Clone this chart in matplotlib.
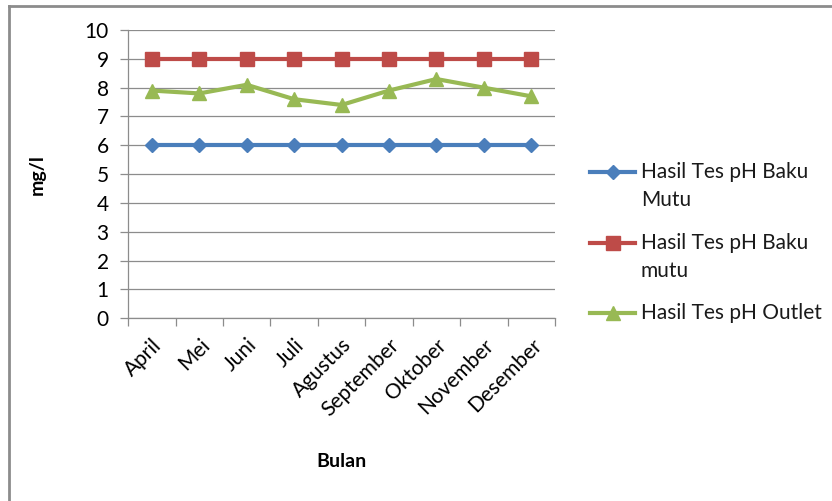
import matplotlib.pyplot as plt
from matplotlib.lines import Line2D
import numpy as np

plt.rcParams['font.family'] = ['Lato', 'DejaVu Sans']

bulan = ['April', 'Mei', 'Juni', 'Juli', 'Agustus', 'September',
         'Oktober', 'November', 'Desember']
baku_mutu_bawah = [6, 6, 6, 6, 6, 6, 6, 6, 6]
baku_mutu_atas = [9, 9, 9, 9, 9, 9, 9, 9, 9]
ph_outlet = [7.9, 7.8, 8.1, 7.6, 7.4, 7.9, 8.3, 8.0, 7.7]

labels = [['Hasil Tes pH Baku', 'Mutu'], ['Hasil Tes pH Baku', 'mutu'], ['Hasil Tes pH Outlet']]
colors = ['#4a7ebb', '#be4b48', '#98b954']
markers = ['D', 's', '^']
msizes = [7, 10, 10]

W, H = 832, 501
fig = plt.figure(figsize=(W / 100, H / 100), dpi=100)
ax = fig.add_axes([0.154, 0.365, 0.513, 0.575])

x = np.arange(len(bulan))
for ys, c, m, ms in zip([baku_mutu_bawah, baku_mutu_atas, ph_outlet], colors, markers, msizes):
    ax.plot(x, ys, color=c, lw=3, marker=m, markersize=ms, zorder=3)

ax.set_xlim(-0.5, len(bulan) - 0.5)
ax.set_ylim(0, 10)
ax.set_yticks(range(0, 11))
ax.grid(axis='y', color='#8c8c8c', lw=0.9)
ax.set_axisbelow(True)

for s in ['top', 'right']:
    ax.spines[s].set_visible(False)
for s in ['left', 'bottom']:
    ax.spines[s].set_color('#8c8c8c')
    ax.spines[s].set_linewidth(0.9)

ax.set_xticks(x)
ax.set_xticklabels(bulan, rotation=45, ha='right', rotation_mode='anchor', fontsize=15)
ax.tick_params(axis='x', length=0, pad=12)
ax.set_xticks(np.arange(-0.5, len(bulan)), minor=True)
ax.tick_params(axis='x', which='minor', length=6, color='#8c8c8c', width=0.9)
ax.tick_params(axis='y', length=6, color='#8c8c8c', width=0.9, labelsize=15, pad=8)

ax.set_ylabel('mg/l', fontsize=14, fontweight='bold', labelpad=28)
ax.set_xlabel('Bulan', fontsize=14, fontweight='bold', labelpad=24)

# legend drawn by hand so the marker sits on the first text line
leg_y = [172, 243, 313]
for lines, yp, c, m, ms in zip(labels, leg_y, colors, markers, msizes):
    fy = 1 - yp / H
    fig.add_artist(Line2D([590 / W, 635 / W], [fy, fy], color=c, lw=3,
                          transform=fig.transFigure))
    fig.add_artist(Line2D([612.5 / W], [fy], color=c, marker=m, markersize=ms,
                          transform=fig.transFigure))
    for i, t in enumerate(lines):
        fig.text(641 / W, 1 - (yp + 28 * i) / H, t, fontsize=15,
                 va='center', ha='left', color='#1a1a1a')

# outer frame (left and top edges)
fig.add_artist(Line2D([0.0108, 0.0108], [0, 0.988], color='#8c8c8c', lw=2,
                      transform=fig.transFigure))
fig.add_artist(Line2D([0.0108, 1], [0.988, 0.988], color='#8c8c8c', lw=2,
                      transform=fig.transFigure))

fig.savefig('out.png', dpi=100, facecolor='white')
